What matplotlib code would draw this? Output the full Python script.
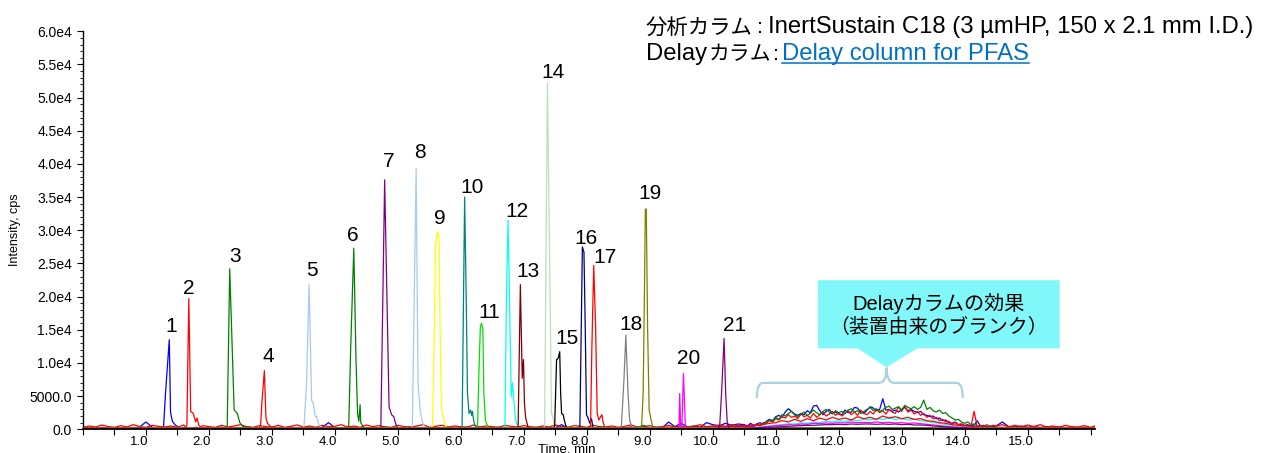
import numpy as np
import matplotlib.pyplot as plt
import matplotlib.transforms as mtransforms
from matplotlib.path import Path
from matplotlib.patches import PathPatch, Polygon
from matplotlib.lines import Line2D
from matplotlib.ticker import MultipleLocator, FuncFormatter

plt.rcParams['font.family'] = ['Liberation Sans', 'Noto Sans CJK JP']

# peak outlines per compound: (retention time [min], intensity [cps])
peak01 = [(1.26, 200), (1.28, 500), (1.31, 5400), (1.34, 9400), (1.37, 13500), (1.39, 2500), (1.42, 1200), (1.46, 700), (1.50, 400), (1.54, 200)]
peak02 = [(1.63, 300), (1.65, 600), (1.68, 19700), (1.71, 2700), (1.75, 2400), (1.79, 1100), (1.81, 1700), (1.84, 600), (1.88, 300)]
peak03 = [(2.27, 200), (2.29, 500), (2.33, 24200), (2.40, 2900), (2.45, 2400), (2.49, 1000), (2.53, 500), (2.58, 200)]
peak04 = [(2.80, 200), (2.82, 700), (2.84, 3900), (2.88, 8850), (2.905, 1700), (2.93, 900), (2.97, 500), (3.01, 200)]
peak05 = [(3.49, 200), (3.51, 500), (3.55, 7000), (3.59, 21800), (3.63, 4400), (3.655, 3900), (3.69, 1900), (3.71, 2000), (3.735, 900), (3.78, 200)]
peak06 = [(4.20, 200), (4.22, 600), (4.25, 12000), (4.30, 27300), (4.335, 10500), (4.36, 2400), (4.38, 1200), (4.40, 3700), (4.41, 1000), (4.45, 400), (4.48, 200)]
peak07 = [(4.71, 100), (4.73, 500), (4.79, 37600), (4.86, 3400), (4.90, 2200), (4.935, 1900), (4.97, 700), (5.01, 100)]
peak08 = [(5.21, 200), (5.23, 500), (5.29, 39300), (5.32, 7000), (5.355, 2800), (5.39, 1100), (5.43, 200)]
peak09 = [(5.53, 200), (5.55, 500), (5.57, 10500), (5.60, 28000), (5.63, 29800), (5.655, 28500), (5.67, 15500), (5.69, 3400), (5.73, 1400), (5.77, 200)]
peak10 = [(6.00, 200), (6.02, 500), (6.06, 35000), (6.085, 20000), (6.105, 5400), (6.13, 2400), (6.155, 2900), (6.17, 2100), (6.185, 2700), (6.205, 1200), (6.24, 200)]
peak11 = [(6.245, 200), (6.265, 500), (6.29, 9500), (6.31, 15500), (6.33, 16000), (6.35, 15000), (6.365, 5400), (6.39, 1400), (6.43, 200)]
peak12 = [(6.68, 200), (6.70, 500), (6.725, 20500), (6.75, 31500), (6.78, 15500), (6.80, 4900), (6.82, 7000), (6.84, 4400), (6.87, 1400), (6.91, 200)]
peak13 = [(6.89, 200), (6.91, 500), (6.945, 21800), (6.975, 7700), (6.995, 10500), (7.01, 3900), (7.03, 1700), (7.07, 200)]
peak14 = [(7.31, 200), (7.33, 500), (7.375, 52200), (7.44, 2400), (7.465, 1700), (7.49, 200)]
peak15 = [(7.47, 200), (7.49, 500), (7.52, 10500), (7.545, 10700), (7.57, 11700), (7.585, 5400), (7.60, 2400), (7.625, 2200), (7.65, 1100), (7.68, 200)]
peak16 = [(7.87, 200), (7.89, 500), (7.91, 14000), (7.93, 27500), (7.955, 26700), (7.975, 15500), (7.995, 2200), (8.02, 1700), (8.05, 900), (8.075, 1600), (8.10, 200)]
peak17 = [(8.04, 200), (8.06, 500), (8.08, 12000), (8.11, 24700), (8.14, 15500), (8.165, 2400), (8.19, 1400), (8.22, 1900), (8.24, 2200), (8.26, 1000), (8.29, 200)]
peak18 = [(8.53, 200), (8.55, 500), (8.59, 7500), (8.62, 14200), (8.655, 5400), (8.68, 1400), (8.72, 200)]
peak19 = [(8.85, 200), (8.87, 500), (8.895, 5400), (8.915, 20500), (8.93, 33200), (8.945, 33200), (8.965, 15500), (8.99, 2900), (9.015, 1700), (9.05, 200)]
peak20 = [(9.45, 100), (9.465, 500), (9.475, 5400), (9.49, 500), (9.51, 500), (9.535, 8400), (9.565, 500), (9.59, 100)]
peak21 = [(10.09, 100), (10.11, 500), (10.14, 5400), (10.18, 13700), (10.205, 5400), (10.23, 1100), (10.26, 100)]

peaks = [peak01, peak02, peak03, peak04, peak05, peak06, peak07, peak08, peak09, peak10, peak11,
         peak12, peak13, peak14, peak15, peak16, peak17, peak18, peak19, peak20, peak21]
peak_labels = [str(n) for n in range(1, 22)]

# flat baseline level of the quiet traces (cps)
base_levels = [None, None, None, 250, 150, 200, 100, 150, 250, 150, 200,
               200, 150, 150, 100, 150, 250, 150, 150, 80, 60]

# baseline noise, 0.0-10.4 min and 14.5-16.1 min every 0.1 min
blue_noise_a = [150, 250, 120, 300, 180, 220, 140, 260, 200, 350,
                1100, 300, 180, 250, 200, 400, 180, 220, 300, 160,
                240, 180, 300, 150, 260, 200, 350, 180, 220, 150,
                280, 200, 160, 300, 220, 180, 250, 150, 300, 1000,
                250, 180, 350, 200, 150, 280, 220, 180, 300, 160,
                260, 200, 380, 150, 240, 180, 300, 200, 160, 280,
                200, 350, 180, 250, 150, 220, 300, 180, 260, 200,
                160, 280, 200, 350, 180, 240, 700, 200, 260, 180,
                250, 180, 300, 200, 160, 260, 220, 350, 180, 240,
                200, 300, 250, 1100, 400, 900, 350, 500, 300, 1000,
                700, 500, 900, 600, 800]
blue_noise_b = [500, 1100, 400, 350, 500, 300, 450, 250, 400, 300, 350, 250, 300, 200, 300, 250, 200]

red_noise_a = [300, 500, 350, 650, 400, 300, 550, 350, 700, 400,
               300, 600, 450, 350, 500, 300, 650, 400, 350, 550,
               400, 300, 600, 350, 500, 700, 400, 300, 550, 400,
               350, 600, 300, 450, 650, 350, 500, 300, 600, 400,
               450, 700, 350, 500, 300, 650, 400, 550, 350, 300,
               600, 400, 350, 500, 700, 300, 450, 600, 350, 500,
               400, 300, 650, 350, 500, 400, 300, 600, 450, 350,
               550, 400, 300, 500, 350, 650, 400, 300, 550, 450,
               300, 600, 400, 350, 500, 300, 450, 650, 350, 400,
               550, 300, 400, 600, 350, 500, 300, 450, 700, 400,
               500, 650, 450, 700, 550]
red_noise_b = [500, 700, 400, 600, 350, 650, 400, 700, 350, 500, 300, 600, 400, 350, 550, 300, 600]

green_noise_a = [200, 150, 250, 180, 300, 200, 150, 250, 200, 300,
                 180, 250, 200, 150, 300, 220, 180, 250, 150, 200,
                 250, 180, 300, 200, 150, 250, 400, 200, 180, 250,
                 200, 300, 150, 250, 200, 180, 300, 220, 150, 250,
                 200, 250, 180, 300, 150, 200, 250, 180, 300, 200,
                 150, 250, 200, 300, 180, 250, 150, 200, 300, 180,
                 250, 200, 150, 300, 200, 250, 180, 300, 200, 150,
                 250, 180, 300, 200, 150, 250, 200, 300, 180, 250,
                 200, 150, 300, 250, 180, 200, 300, 150, 250, 600,
                 200, 250, 180, 300, 200, 250, 180, 300, 250, 350,
                 300, 400, 350, 450, 400]
green_noise_b = [300, 250, 200, 300, 200, 250, 180, 250, 200, 150, 250, 200, 180, 250, 200, 150, 200]

# system blank eluting between 10.5 and 14.45 min (every 0.05 min)
blue_blank = [700, 500, 900, 600, 800, 1000, 700, 1200, 1500, 1300,
              1900, 2100, 1800, 2600, 3100, 2700, 2300, 2100, 2400, 2200,
              2800, 2500, 3500, 3600, 2800, 2200, 2700, 3000, 2400, 2600,
              2300, 2200, 2900, 2500, 2600, 3300, 3200, 2600, 2400, 2900,
              3400, 3200, 2800, 3000, 4600, 2900, 3000, 2700, 2900, 2600,
              3000, 3300, 2800, 3000, 2700, 2500, 2700, 2200, 2100, 1900,
              2000, 1600, 1700, 1300, 1400, 1000, 900, 1100, 700, 800,
              600, 700, 500, 600, 1300, 500, 600, 400, 500, 400]
green_blank = [400, 300, 500, 400, 600, 500, 900, 1100, 1400, 1200,
               1800, 1500, 2200, 2000, 2400, 2700, 2200, 1900, 2300, 2600,
               2100, 2400, 2900, 2500, 2200, 2700, 3000, 2600, 2300, 2800,
               2500, 2700, 2400, 2900, 3100, 2600, 2800, 2400, 2700, 3000,
               3300, 2800, 3100, 2700, 2900, 3300, 3500, 3000, 3200, 3400,
               2900, 3600, 3300, 3100, 3400, 3000, 3300, 4400, 3000, 3300,
               2800, 2600, 2900, 2400, 2500, 2000, 1700, 1400, 1500, 1100,
               900, 1100, 700, 800, 500, 400, 500, 300, 400, 300]
red_blank = [600, 400, 700, 500, 800, 600, 1000, 900, 1300, 1100,
             1600, 1400, 1900, 1700, 2200, 1800, 2000, 1600, 2300, 1900,
             2100, 1700, 2400, 1800, 2200, 2600, 2000, 2300, 2700, 2100,
             2500, 2000, 2400, 2800, 2200, 2600, 2100, 2900, 2400, 2200,
             2700, 2300, 3000, 2500, 2800, 2300, 3000, 2600, 2400, 3400,
             2700, 3500, 2600, 2900, 2300, 2700, 2100, 2400, 1800, 2100,
             1600, 1800, 1300, 1500, 1100, 1200, 800, 1000, 700, 800,
             500, 600, 400, 2700, 400, 600, 400, 700, 400, 600]

# weaker blank traces, 10.5-14.4 min every 0.1 min
red_low_blank = [400, 500, 600, 700, 900, 1000, 1300, 1100, 1500, 1200,
                 1600, 1300, 1700, 1400, 1800, 1500, 1700, 1400, 1900, 1600,
                 1800, 1500, 2000, 1700, 1900, 1600, 1800, 1500, 1600, 1300,
                 1200, 1000, 900, 700, 600, 500, 450, 400, 350, 300]
cyan_blank = [200, 250, 300, 400, 500, 650, 700, 850, 800, 1000,
              900, 1100, 1000, 1200, 1100, 1300, 1200, 1400, 1300, 1500,
              1400, 1600, 1500, 1700, 1500, 1600, 1400, 1500, 1300, 1200,
              1000, 900, 700, 600, 500, 400, 300, 250, 200, 200]
magenta_blank = [150, 200, 250, 350, 450, 550, 600, 700, 650, 800,
                 750, 900, 850, 950, 900, 1000, 950, 1100, 1000, 1050,
                 1000, 1100, 1000, 1050, 950, 1000, 900, 950, 850, 750,
                 650, 550, 450, 350, 300, 250, 200, 150, 150, 100]
purple_blank = [100, 150, 200, 250, 300, 350, 400, 450, 500, 550,
                600, 600, 650, 700, 700, 750, 700, 800, 750, 800,
                800, 750, 800, 750, 800, 700, 750, 650, 650, 600,
                500, 450, 350, 300, 250, 200, 150, 120, 100, 100]

colors = ['#0000ff', '#ff0000', '#008000', '#ff0000', '#a6caf0', '#008000', '#800080',
          '#a6caf0', '#ffff00', '#008080', '#00e000', '#00ffff', '#800000', '#c0dcc0',
          '#000000', '#000080', '#ff0000', '#808080', '#808000', '#ff00ff', '#800080']

# label offsets from each apex, in pixels
label_dx = [2, 0, 5, 4, 3, -1, 4, 4, 2, 7, 8, 9, 8, 6, 7, 4, 11, 5, 5, 5, 10]
label_dy = [13, 10, 12, 14, 14, 13, 18, 16, 13, 10, 11, 9, 13, 11, 13, 8, 8, 11, 16, 15, 13]


def grid(t0, values, step):
    return np.round(t0 + step * np.arange(len(values)), 3)


t_a = grid(0.0, red_noise_a, 0.1)
t_b = grid(14.5, red_noise_b, 0.1)
t_fine = grid(10.5, blue_blank, 0.05)
t_coarse = grid(10.5, cyan_blank, 0.1)

noisy = {0: blue_noise_a + blue_noise_b,
         1: red_noise_a + red_noise_b,
         2: green_noise_a + green_noise_b}
blanks = {0: (t_fine, blue_blank), 1: (t_fine, red_blank), 2: (t_fine, green_blank),
          16: (t_coarse, red_low_blank), 11: (t_coarse, cyan_blank),
          19: (t_coarse, magenta_blank), 20: (t_coarse, purple_blank)}


def build_trace(i):
    if i in noisy:
        t = np.concatenate([t_a, t_b])
        y = np.array(noisy[i], float)
    else:
        t = np.array([0.0, 16.1])
        y = np.array([base_levels[i]] * 2, float)
    segs = [(np.array([p[0] for p in peaks[i]]), np.array([p[1] for p in peaks[i]], float))]
    if i in blanks:
        segs.append((np.asarray(blanks[i][0]), np.array(blanks[i][1], float)))
    keep = np.ones(len(t), bool)
    for st, _ in segs:
        keep &= ~((t >= st[0]) & (t <= st[-1]))
    tt = np.concatenate([t[keep]] + [s[0] for s in segs])
    yy = np.concatenate([y[keep]] + [s[1] for s in segs])
    order = np.argsort(tt, kind='stable')
    return tt[order], yy[order]


fig = plt.figure(figsize=(12.61, 4.53), dpi=100)
W, H = 1261, 453
ax = fig.add_axes([83 / W, 1 - 429.3 / H, (1095 - 83) / W, (429.3 - 31.3) / H])

for i in range(21):
    t, y = build_trace(i)
    ax.plot(t, y, color=colors[i], lw=0.9, zorder=2 + i * 0.01)

for i, pk in enumerate(peaks):
    apex = max(pk, key=lambda p: p[1])
    ax.annotate(peak_labels[i], xy=apex, xytext=(label_dx[i], label_dy[i]),
                textcoords='offset pixels', ha='center', va='center', fontsize=15)

ax.set_xlim(0, 16.07)
ax.set_ylim(0, 60000)
for side in ['top', 'right']:
    ax.spines[side].set_visible(False)
ax.spines['left'].set_linewidth(1.0)
ax.spines['bottom'].set_linewidth(1.3)

ax.xaxis.set_minor_locator(MultipleLocator(0.5))
ax.set_xticks(np.arange(1, 16))
ax.xaxis.set_major_formatter(FuncFormatter(lambda v, p: f'{v:.1f}'))
ax.yaxis.set_major_locator(MultipleLocator(5000))
ax.yaxis.set_minor_locator(MultipleLocator(1000))


def ylab(v, p):
    if v == 0:
        return '0.0'
    if v < 10000:
        return f'{v:.1f}'
    return f'{v / 1e4:.1f}e4'


ax.yaxis.set_major_formatter(FuncFormatter(ylab))
ax.tick_params(axis='x', which='both', direction='out', length=4, width=0.8, labelsize=9.5, pad=1)
ax.tick_params(axis='y', which='major', direction='out', length=4, width=0.8, labelsize=10, pad=4)
ax.tick_params(axis='y', which='minor', direction='out', length=2, width=0.6)

shift = mtransforms.ScaledTranslation(-7 / 100, 0, fig.dpi_scale_trans)
for lbl in ax.get_xticklabels():
    lbl.set_transform(lbl.get_transform() + shift)

fig.text(15 / W, 1 - 230 / H, 'Intensity, cps', rotation=90, ha='center', va='center', fontsize=9)
fig.text(567 / W, 1 - 444 / H, 'Time, min', ha='center', va='top', fontsize=9.5)

# column conditions
fig.text(646 / W, 1 - 33.3 / H, '分析カラム', ha='left', va='baseline', fontsize=15.4)
fig.text(757 / W, 1 - 33.3 / H, ':', ha='left', va='baseline', fontsize=15.4)
fig.text(768 / W, 1 - 33.3 / H, 'InertSustain C18 (3 µmHP, 150 x 2.1 mm I.D.)',
         ha='left', va='baseline', fontsize=17.2)
fig.text(646 / W, 1 - 60 / H, 'Delay', ha='left', va='baseline', fontsize=17.2)
fig.text(709 / W, 1 - 60 / H, 'カラム', ha='left', va='baseline', fontsize=15.0)
fig.text(773 / W, 1 - 60 / H, ':', ha='left', va='baseline', fontsize=15.4)
link = fig.text(782 / W, 1 - 60 / H, 'Delay column for PFAS', ha='left',
                va='baseline', fontsize=17.2, color='#0070c0')
fig.canvas.draw()
bb = link.get_window_extent(fig.canvas.get_renderer())
uy = 1 - 62.5 / H
fig.add_artist(Line2D([bb.x0 / W, bb.x1 / W], [uy, uy], color='#0070c0', lw=1.1,
                      transform=fig.transFigure))

# callout for the blank region
box = Polygon([(11.67, 22470), (15.51, 22470), (15.51, 12200), (13.25, 12200),
               (12.76, 9350), (12.30, 12200), (11.67, 12200)],
              closed=True, facecolor='#80f8fa', edgecolor='none', zorder=5)
ax.add_patch(box)
ax.text(13.59, 18900, 'Delayカラムの効果', ha='center', va='center', fontsize=14.5, zorder=6)
ax.text(13.59, 15300, '（装置由来のブランク）', ha='center', va='center', fontsize=14.3, zorder=6)

verts = [(10.70, 4700), (10.70, 7000), (10.80, 7000),
         (12.64, 7000), (12.76, 7000), (12.76, 9300),
         (12.76, 7000), (12.88, 7000),
         (13.87, 7000), (13.97, 7000), (13.97, 4700)]
codes = [Path.MOVETO, Path.CURVE3, Path.CURVE3,
         Path.LINETO, Path.CURVE3, Path.CURVE3,
         Path.CURVE3, Path.CURVE3,
         Path.LINETO, Path.CURVE3, Path.CURVE3]
ax.add_patch(PathPatch(Path(verts, codes), facecolor='none', edgecolor='#a9d3dd', lw=1.6, zorder=5))

fig.savefig('out.png', dpi=100)
